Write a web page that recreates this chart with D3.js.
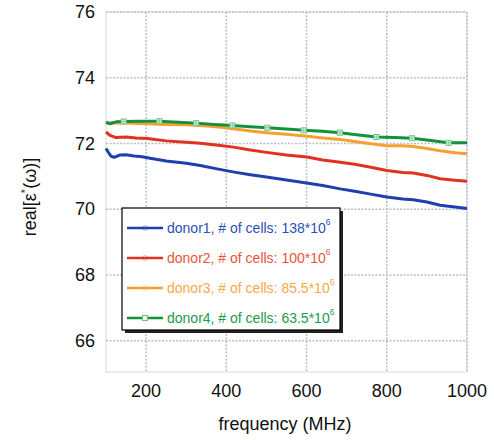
<!DOCTYPE html>
<html>
<head>
<meta charset="utf-8">
<script src="https://cdn.jsdelivr.net/npm/d3@7"></script>
<style>
  body { margin: 0; background: #fff; }
  text { font-family: "Liberation Sans", Arial, sans-serif; }
</style>
</head>
<body>
<script>
// values
var xTicks = [200, 400, 600, 800, 1000];
var yTicks = [66, 68, 70, 72, 74, 76];

var donor1Freq = [100, 105, 112, 120, 135, 150, 170, 190, 210, 250, 300, 335, 380, 420, 460, 500, 550, 600, 640, 684, 720, 760, 800, 840, 866, 900, 933, 970, 1000];
var donor1Val  = [71.85, 71.75, 71.62, 71.58, 71.65, 71.66, 71.62, 71.6, 71.55, 71.47, 71.4, 71.33, 71.22, 71.13, 71.05, 70.98, 70.89, 70.8, 70.72, 70.62, 70.55, 70.46, 70.37, 70.31, 70.29, 70.22, 70.12, 70.07, 70.02];

var donor2Freq = [100, 110, 125, 150, 175, 203, 250, 300, 335, 380, 418, 460, 500, 550, 601, 640, 684, 720, 760, 800, 840, 866, 900, 933, 970, 1000];
var donor2Val  = [72.35, 72.25, 72.18, 72.2, 72.17, 72.15, 72.08, 72.04, 72.01, 71.95, 71.89, 71.8, 71.73, 71.65, 71.59, 71.5, 71.43, 71.37, 71.28, 71.18, 71.12, 71.1, 71.03, 70.93, 70.88, 70.85];

var donor3Freq = [100, 120, 150, 200, 250, 300, 335, 380, 418, 460, 500, 550, 601, 640, 684, 720, 760, 800, 840, 866, 900, 933, 970, 1000];
var donor3Val  = [72.62, 72.63, 72.62, 72.6, 72.58, 72.57, 72.55, 72.5, 72.45, 72.38, 72.33, 72.28, 72.22, 72.17, 72.12, 72.06, 71.99, 71.93, 71.93, 71.91, 71.85, 71.78, 71.72, 71.69];

var donor4Freq = [100, 110, 125, 144, 180, 233, 280, 325, 370, 415, 460, 502, 550, 593, 640, 683, 730, 774, 820, 863, 910, 954, 1000];
var donor4Val  = [72.65, 72.6, 72.66, 72.67, 72.68, 72.68, 72.65, 72.62, 72.58, 72.55, 72.51, 72.48, 72.44, 72.4, 72.37, 72.33, 72.26, 72.2, 72.18, 72.16, 72.09, 72.02, 72.02];
var donor4Marks = [144, 233, 325, 415, 502, 593, 683, 774, 863, 954];

var seriesNames = ["donor1, # of cells: 138*10", "donor2, # of cells: 100*10", "donor3, # of cells: 85.5*10", "donor4, # of cells: 63.5*10"];
var lineColors = ["#1f3fae", "#e0321f", "#f5a030", "#13923e"];
var textColors = ["#2b4fb8", "#e8553a", "#f5a94a", "#1a9a4e"];

var svgWidth = 494, svgHeight = 440;
var margin = { top: 12, right: 27, bottom: 68, left: 106 };
var width = svgWidth - margin.left - margin.right;
var height = svgHeight - margin.top - margin.bottom;

var svg = d3.select("body").append("svg")
  .attr("width", svgWidth)
  .attr("height", svgHeight);

var g = svg.append("g")
  .attr("transform", `translate(${margin.left}, ${margin.top})`);

var x = d3.scaleLinear().domain([100, 1000]).range([0, width]);
var y = d3.scaleLinear().domain([65.05, 76]).range([height, 0]);

// plot frame (light)
g.append("rect")
  .attr("width", width).attr("height", height)
  .attr("fill", "none").attr("stroke", "#d4dde4").attr("stroke-width", 1);

// dotted grid
g.selectAll(".vgrid").data(xTicks).enter().append("line")
  .attr("x1", d => x(d)).attr("x2", d => x(d))
  .attr("y1", 0).attr("y2", height)
  .attr("stroke", "#b5bfc9").attr("stroke-width", 1.5).attr("stroke-dasharray", "2,1.5");

g.selectAll(".hgrid").data(yTicks).enter().append("line")
  .attr("x1", 0).attr("x2", width)
  .attr("y1", d => y(d)).attr("y2", d => y(d))
  .attr("stroke", "#b5bfc9").attr("stroke-width", 1.5).attr("stroke-dasharray", "2,1.5");

// tick labels
g.selectAll(".xlab").data(xTicks).enter().append("text")
  .attr("x", d => x(d)).attr("y", height + 25)
  .attr("text-anchor", "middle").attr("font-size", 18).attr("fill", "#111")
  .text(d => d);

g.selectAll(".ylab").data(yTicks).enter().append("text")
  .attr("x", -11).attr("y", d => y(d))
  .attr("text-anchor", "end").attr("dominant-baseline", "central")
  .attr("font-size", 18).attr("fill", "#111")
  .text(d => d);

// axis titles
svg.append("text")
  .attr("x", 285).attr("y", 430)
  .attr("text-anchor", "middle").attr("font-size", 18).attr("fill", "#111")
  .text("frequency (MHz)");

var yt = svg.append("text")
  .attr("transform", "translate(36, 197) rotate(-90)")
  .attr("text-anchor", "middle").attr("font-size", 18).attr("fill", "#111");
yt.append("tspan").text("real[\u03b5");
yt.append("tspan").attr("font-size", 11).attr("dy", -7).text("*");
yt.append("tspan").attr("dy", 7).text("(\u03c9)]");

// series
var series = [
  { f: donor1Freq, v: donor1Val },
  { f: donor2Freq, v: donor2Val },
  { f: donor3Freq, v: donor3Val },
  { f: donor4Freq, v: donor4Val }
];

var line = d3.line()
  .x(d => x(d[0]))
  .y(d => y(d[1]));

series.forEach(function(s, i) {
  var pts = s.f.map((f, j) => [f, s.v[j]]);
  g.append("path")
    .datum(pts)
    .attr("d", line)
    .attr("fill", "none")
    .attr("stroke", lineColors[i])
    .attr("stroke-width", 3)
    .attr("stroke-linejoin", "round");
});

// green square markers
var markPts = donor4Freq.map((f, j) => [f, donor4Val[j]]).filter(d => donor4Marks.indexOf(d[0]) >= 0);
var mk = g.selectAll(".mk").data(markPts).enter().append("g")
  .attr("transform", d => `translate(${x(d[0])}, ${y(d[1])})`);
mk.append("rect")
  .attr("x", -2.5).attr("y", -2.5).attr("width", 5).attr("height", 5)
  .attr("fill", "#eef8f1").attr("stroke", "#6cc08a").attr("stroke-width", 1);
mk.append("path")
  .attr("d", "M0,-2.5V2.5M-2.5,0H2.5")
  .attr("stroke", "#6cc08a").attr("stroke-width", 0.8);

// legend
var lx = 122, ly = 208, lw = 218, lh = 122;
svg.append("rect")
  .attr("x", lx + 3).attr("y", ly + 3).attr("width", lw).attr("height", lh)
  .attr("fill", "#222");
svg.append("rect")
  .attr("x", lx).attr("y", ly).attr("width", lw).attr("height", lh)
  .attr("fill", "#fff").attr("stroke", "#000").attr("stroke-width", 1.2);

var leg = svg.selectAll(".leg").data(seriesNames).enter().append("g")
  .attr("transform", (d, i) => `translate(${lx}, ${ly + 20 + i * 30})`);

leg.append("line")
  .attr("x1", 5).attr("x2", 41)
  .attr("stroke", (d, i) => lineColors[i]).attr("stroke-width", 2.5);

leg.filter((d, i) => i < 3).append("circle")
  .attr("cx", 23).attr("r", 2.5)
  .attr("fill", "none").attr("stroke", (d, i) => lineColors[i]).attr("stroke-opacity", 0.35);

leg.filter((d, i) => i === 3).append("rect")
  .attr("x", 20.5).attr("y", -2.5).attr("width", 5).attr("height", 5)
  .attr("fill", "#eef8f1").attr("stroke", "#6cc08a").attr("stroke-width", 1);

var lt = leg.append("text")
  .attr("x", 45).attr("dominant-baseline", "central")
  .attr("font-size", 14)
  .attr("fill", (d, i) => textColors[i]);
lt.append("tspan").text(d => d);
lt.append("tspan").attr("font-size", 8.5).attr("dy", -6).text("6");
</script>
</body>
</html>
